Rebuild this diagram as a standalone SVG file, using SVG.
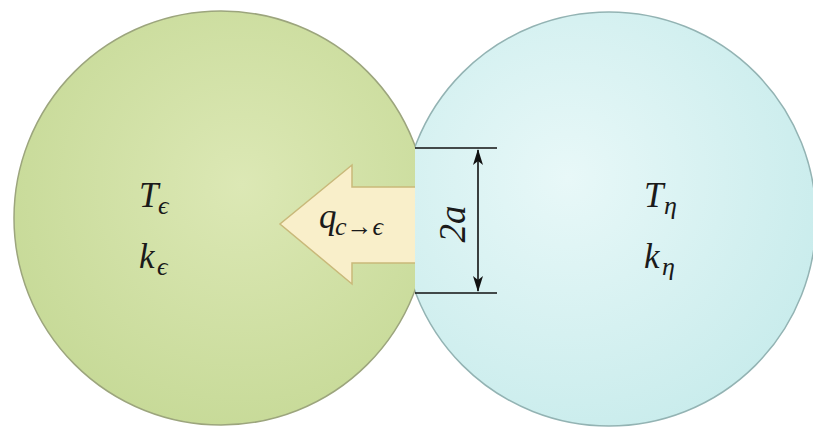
<svg xmlns="http://www.w3.org/2000/svg" width="813" height="428" viewBox="0 0 813 428">
<style>
text{font-family:'Liberation Serif','DejaVu Serif',serif;font-style:italic;fill:#1a1a1a;}
.big{font-size:35px;}
.sub{font-size:26px;}
.dim{stroke:#111;stroke-width:1.6;fill:none;}
</style>
<defs>
<radialGradient id="gG" cx="0.55" cy="0.42" r="0.6">
<stop offset="0" stop-color="#dce8b5"/>
<stop offset="1" stop-color="#c7da98"/>
</radialGradient>
<radialGradient id="gB" cx="0.4" cy="0.4" r="0.65">
<stop offset="0" stop-color="#e8f8f8"/>
<stop offset="1" stop-color="#c9ecec"/>
</radialGradient>
<clipPath id="cL"><rect x="0" y="0" width="415" height="428"/></clipPath>
<clipPath id="cR"><rect x="415" y="0" width="398" height="428"/></clipPath>
<marker id="ah" viewBox="0 0 16 10" refX="15" refY="5" markerWidth="16" markerHeight="10" markerUnits="userSpaceOnUse" orient="auto-start-reverse">
<path d="M0,0 L16,5 L0,10 L4,5 Z" fill="#111"/>
</marker>
</defs>
<rect width="813" height="428" fill="#ffffff"/>
<g id="sphere-eps">
<circle cx="221" cy="218" r="207" fill="url(#gG)" stroke="#9ca57d" stroke-width="1.5" clip-path="url(#cL)"/>
<text class="big" x="139" y="207">T</text><text class="sub" x="158" y="214">ϵ</text>
<text class="big" x="139" y="268">k</text><text class="sub" x="157" y="275">ϵ</text>
</g>
<g id="sphere-eta">
<circle cx="609" cy="219" r="207" fill="url(#gB)" stroke="#93b3b3" stroke-width="1.5" clip-path="url(#cR)"/>
<text class="big" x="644" y="207">T</text><text class="sub" x="664" y="214">η</text>
<text class="big" x="644" y="268">k</text><text class="sub" x="662" y="275">η</text>
</g>
<g id="heat-flux">
<polygon points="415,187 352,187 352,165 280,224 352,284 352,263 415,263" fill="#f9efca"/>
<polyline points="415,187 352,187 352,165 280,224 352,284 352,263 415,263" fill="none" stroke="#c9b97a" stroke-width="1.5"/>
<text class="big" x="319" y="228">q</text><text class="sub" x="335" y="235">c→ϵ</text>
</g>
<g id="connectors">
<line class="dim" x1="415" y1="148" x2="497" y2="148"/>
<line class="dim" x1="415" y1="293" x2="497" y2="293"/>
<line class="dim" x1="478" y1="150" x2="478" y2="291" marker-start="url(#ah)" marker-end="url(#ah)"/>
</g>
<g id="dim-label">
<text class="big" x="0" y="0" text-anchor="middle" style="font-size:37px" transform="translate(465,224) rotate(-90)">2a</text>
</g>
</svg>
